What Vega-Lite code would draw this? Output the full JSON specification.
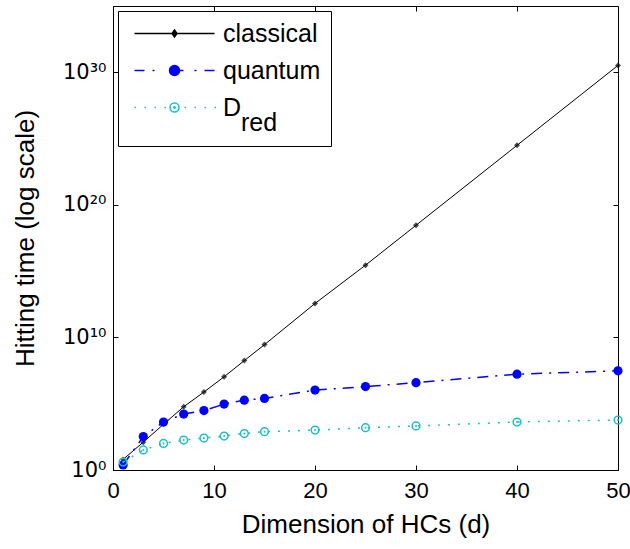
{
  "$schema": "https://vega.github.io/schema/vega-lite/v6.json",
  "width": 505,
  "height": 464,
  "autosize": {"type": "none"},
  "padding": {"left": 113, "top": 6, "right": 12, "bottom": 79},
  "background": "white",
  "config": {
    "view": {"stroke": "black", "strokeWidth": 1},
    "font": "Liberation Sans",
    "axis": {
      "grid": false,
      "domainColor": "black",
      "tickColor": "black",
      "labelColor": "black",
      "titleColor": "black",
      "labelFont": "Liberation Sans",
      "titleFont": "Liberation Sans",
      "labelFontSize": 22,
      "titleFontSize": 26,
      "titleFontWeight": "normal",
      "tickSize": -5,
      "domainWidth": 1,
      "tickWidth": 1,
      "labelFlush": false,
      "labelOverlap": false
    },
    "legend": {
      "orient": "top-left",
      "offset": 5,
      "padding": 10,
      "strokeColor": "black",
      "fillColor": "white",
      "labelFont": "Liberation Sans",
      "labelFontSize": 25,
      "labelColor": "black",
      "symbolSize": 100,
      "symbolStrokeWidth": 1.5,
      "symbolOffset": 34,
      "labelOffset": 36,
      "rowPadding": 11,
      "labelLimit": 300
    },
    "style": {"guide-label": {"lineHeight": 15}}
  },
  "data": {
    "values": [
      {"d": 1, "series": "classical", "v": 6.31},
      {"d": 3, "series": "classical", "v": 126},
      {"d": 5, "series": "classical", "v": 2818},
      {"d": 7, "series": "classical", "v": 58884},
      {"d": 9, "series": "classical", "v": 758578},
      {"d": 11, "series": "classical", "v": 1.07e7},
      {"d": 13, "series": "classical", "v": 1.78e8},
      {"d": 15, "series": "classical", "v": 2.88e9},
      {"d": 20, "series": "classical", "v": 3.63e12},
      {"d": 25, "series": "classical", "v": 2.82e15},
      {"d": 30, "series": "classical", "v": 2.88e18},
      {"d": 40, "series": "classical", "v": 3.09e24},
      {"d": 50, "series": "classical", "v": 3.31e30},
      {"d": 1, "series": "quantum", "v": 2.4},
      {"d": 3, "series": "quantum", "v": 331},
      {"d": 5, "series": "quantum", "v": 4169},
      {"d": 7, "series": "quantum", "v": 16596},
      {"d": 9, "series": "quantum", "v": 30200},
      {"d": 11, "series": "quantum", "v": 93325},
      {"d": 13, "series": "quantum", "v": 186209},
      {"d": 15, "series": "quantum", "v": 251189},
      {"d": 20, "series": "quantum", "v": 1.07e6},
      {"d": 25, "series": "quantum", "v": 1.95e6},
      {"d": 30, "series": "quantum", "v": 3.89e6},
      {"d": 40, "series": "quantum", "v": 1.7e7},
      {"d": 50, "series": "quantum", "v": 3.02e7},
      {"d": 1, "series": "D_red", "v": 3.98},
      {"d": 3, "series": "D_red", "v": 32.4},
      {"d": 5, "series": "D_red", "v": 100},
      {"d": 7, "series": "D_red", "v": 182},
      {"d": 9, "series": "D_red", "v": 257},
      {"d": 11, "series": "D_red", "v": 363},
      {"d": 13, "series": "D_red", "v": 562},
      {"d": 15, "series": "D_red", "v": 776},
      {"d": 20, "series": "D_red", "v": 1023},
      {"d": 25, "series": "D_red", "v": 1549},
      {"d": 30, "series": "D_red", "v": 2089},
      {"d": 40, "series": "D_red", "v": 4169},
      {"d": 50, "series": "D_red", "v": 5888}
    ]
  },
  "encoding": {
    "x": {"field": "d", "type": "quantitative", "scale": {"domain": [0, 50], "nice": false, "zero": false}, "axis": null},
    "y": {"field": "v", "type": "quantitative", "scale": {"type": "log", "domain": [1, 1e35], "nice": false}, "axis": null}
  },
  "layer": [
    {
      "transform": [{"filter": "datum.series == 'classical'"}],
      "mark": {"type": "line", "color": "black", "strokeWidth": 1},
      "encoding": {
        "x": {"field": "d", "type": "quantitative", "axis": {"values": [0, 10, 20, 30, 40, 50], "title": "Dimension of HCs (d)", "labelPadding": 15, "titlePadding": 10}},
        "y": {"field": "v", "type": "quantitative", "axis": {"values": [1, 1e10, 1e20, 1e30], "labelExpr": "datum.value < 10 ? '10⁰' : datum.value < 1e11 ? '10¹⁰' : datum.value < 1e21 ? '10²⁰' : '10³⁰'", "labelFont": "DejaVu Sans", "labelFontSize": 21, "title": "Hitting time (log scale)", "labelPadding": 12, "titlePadding": 24}}
      }
    },
    {
      "transform": [{"filter": "datum.series == 'classical'"}],
      "mark": {"type": "point", "shape": "diamond", "filled": true, "color": "black", "size": 36}
    },
    {
      "transform": [{"filter": "datum.series == 'quantum'"}],
      "mark": {"type": "line", "color": "#0000ff", "strokeWidth": 1.5, "strokeDash": [11, 7, 2, 7]}
    },
    {
      "transform": [{"filter": "datum.series == 'quantum'"}],
      "mark": {"type": "point", "shape": "circle", "filled": true, "color": "#0000ff", "size": 85, "opacity": 1}
    },
    {
      "transform": [{"filter": "datum.series == 'D_red'"}],
      "mark": {"type": "line", "color": "#19c2c2", "strokeWidth": 1.5, "strokeDash": [2, 8]}
    },
    {
      "transform": [{"filter": "datum.series == 'D_red'"}],
      "mark": {"type": "point", "shape": "circle", "filled": false, "color": "#19c2c2", "size": 60, "strokeWidth": 1.5, "opacity": 1}
    },
    {
      "transform": [{"filter": "datum.series == 'D_red'"}],
      "mark": {"type": "point", "shape": "circle", "filled": true, "color": "#19c2c2", "size": 4, "opacity": 1}
    },
    {
      "transform": [{"filter": "false"}],
      "mark": {"type": "point", "size": 100, "strokeWidth": 1.5, "opacity": 1},
      "encoding": {
        "shape": {
          "field": "series", "type": "nominal",
          "scale": {
            "domain": ["classical", "quantum", "D_red"],
            "range": [
              "M-8,0H8M0,-0.7L0.5,0L0,0.7L-0.5,0Z",
              "M-8,0H-6M-4.4,0H-4M-1,0H1.8M4,0H4.4M6,0H8M-1,0A1,1 0 1,0 1,0A1,1 0 1,0 -1,0Z",
              "M-8,0H-7.7M-6,0H-5.7M-4,0H-3.7M-2,0H-1.7M2,0H2.3M4,0H4.3M6,0H6.3M8,0H8.3M-0.9,0A0.9,0.9 0 1,0 0.9,0A0.9,0.9 0 1,0 -0.9,0ZM-0.15,0A0.15,0.15 0 1,0 0.15,0A0.15,0.15 0 1,0 -0.15,0Z"
            ]
          },
          "legend": {"title": null, "labelExpr": "datum.label == 'D_red' ? ['D', '\u2800red'] : datum.label"}
        },
        "fill": {
          "field": "series", "type": "nominal",
          "scale": {"domain": ["classical", "quantum", "D_red"], "range": ["black", "#0000ff", "white"]},
          "legend": {"title": null, "labelExpr": "datum.label == 'D_red' ? ['D', '\u2800red'] : datum.label"}
        },
        "stroke": {
          "field": "series", "type": "nominal",
          "scale": {"domain": ["classical", "quantum", "D_red"], "range": ["black", "#0000ff", "#19c2c2"]},
          "legend": {"title": null, "labelExpr": "datum.label == 'D_red' ? ['D', '\u2800red'] : datum.label"}
        }
      }
    },
    {
      "transform": [{"filter": "false"}],
      "mark": {"type": "point"},
      "encoding": {
        "x": {"field": "d", "type": "quantitative", "axis": {"orient": "top", "values": [0, 10, 20, 30, 40, 50], "labels": false, "title": null, "domain": false}},
        "y": {"field": "v", "type": "quantitative", "axis": {"orient": "right", "values": [1, 1e10, 1e20, 1e30], "labels": false, "title": null, "domain": false}}
      }
    }
  ],
  "resolve": {"axis": {"x": "independent", "y": "independent"}}
}
